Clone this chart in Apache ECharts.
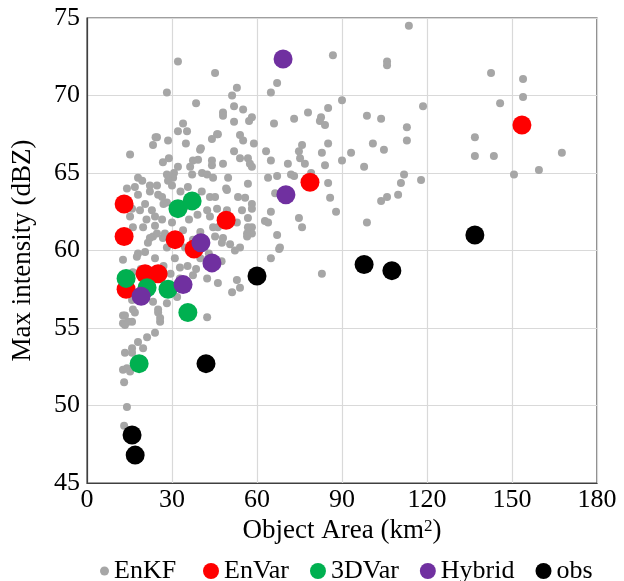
<!DOCTYPE html>
<html>
<head>
<meta charset="utf-8">
<script src="https://cdn.jsdelivr.net/npm/echarts@6/dist/echarts.min.js"></script>
<style>
html,body{margin:0;padding:0;background:#fff;}
#main{width:624px;height:581px;}
</style>
</head>
<body>
<div id="main"></div>
<script>
// tick marks
var xTicks = [0, 30, 60, 90, 120, 150, 180];
var yTicks = [45, 50, 55, 60, 65, 70, 75];

// EnKF members (gray cloud), [area, max dBZ]
var enkf = [
  [142.6,71.45],[153.9,71.06],[153.9,69.9],[145.8,69.5],[118.6,69.3],[136.9,67.3],[136.9,66.1],[143.6,66.1],
  [167.6,66.3],[159.5,65.2],[150.7,64.9],[117.9,64.55],[113.6,74.5],[86.8,72.6],[105.9,72.2],[105.9,71.95],
  [67.1,70.8],[64.9,70.2],[90.0,69.7],[85.1,69.2],[78.0,68.9],[73.1,68.5],[98.8,68.7],[103.8,68.5],
  [66.0,68.2],[82.6,68.6],[82.2,68.35],[84.0,68.1],[112.9,67.95],[112.9,67.1],[58.2,68.6],[58.9,66.9],
  [75.9,66.8],[85.1,66.9],[100.9,66.9],[104.8,66.5],[63.2,66.4],[74.8,66.4],[82.9,66.3],[93.2,66.3],
  [75.2,65.95],[76.9,65.6],[64.9,65.8],[70.9,65.6],[90.0,65.8],[84.0,65.5],[97.8,65.4],[58.2,65.4],
  [111.9,64.9],[110.8,64.35],[63.9,64.7],[67.1,64.8],[72.0,64.9],[73.1,64.8],[79.1,65.0],[85.1,64.35],
  [66.4,63.7],[109.8,63.6],[105.9,63.45],[103.8,63.2],[85.8,63.4],[58.2,63.0],[64.9,62.5],[87.9,62.5],
  [62.8,61.9],[63.9,61.8],[74.8,62.1],[75.9,61.5],[98.8,61.8],[58.2,61.5],[67.1,61.0],[68.1,60.2],
  [58.2,61.1],[67.8,60.1],[64.9,59.5],[82.9,58.5],
  [45.2,71.45],[52.9,70.5],[51.2,70.0],[38.5,69.5],[51.9,69.3],[55.1,69.1],[48.0,68.9],[48.0,68.7],
  [57.2,68.35],[51.9,68.3],[46.2,67.5],[44.1,67.2],[54.0,67.45],[55.1,67.1],[40.2,66.6],[51.9,66.4],
  [54.0,65.95],[39.2,65.85],[44.1,65.8],[44.1,65.5],[48.0,65.6],[56.8,65.95],[57.5,65.6],[40.6,65.0],
  [42.4,64.9],[44.5,64.7],[49.8,64.7],[56.8,64.3],[49.1,64.0],[43.4,63.45],[45.2,63.45],[53.3,63.45],
  [32.1,72.2],[28.2,70.2],[33.9,68.2],[32.1,67.7],[35.3,67.7],[24.7,67.3],[24.2,67.3],[28.6,67.1],
  [23.3,66.8],[34.9,66.9],[15.2,66.2],[28.9,65.95],[26.8,65.7],[36.4,65.4],[32.1,65.4],[37.1,64.9],
  [18.0,64.7],[28.2,64.9],[30.7,65.0],[22.2,64.2],[24.7,64.2],[30.0,64.2],[14.1,64.0],[16.9,64.1],
  [22.2,63.8],[18.0,63.6],[25.1,63.6],[35.6,64.1],[30.4,64.7],[28.6,64.5],[39.9,66.5],[45.9,67.5],
  [37.4,65.8],[49.4,63.9],[54.7,62.6],[49.4,62.6],[45.9,62.7],[42.4,62.6],
  [26.5,63.45],[28.2,63.1],[15.9,62.7],[18.7,62.6],[22.9,62.6],[24.0,62.2],[15.2,62.2],[26.5,62.0],
  [19.8,61.5],[24.0,61.6],[16.2,61.5],[23.3,60.9],[26.8,60.8],[21.5,60.5],[28.2,60.2],[34.6,60.2],
  [18.0,59.8],[20.5,59.9],[24.0,59.5],[17.6,59.6],[12.7,59.4],[32.8,58.9],[37.4,58.4],[16.2,58.6],
  [15.9,56.8],[23.3,56.7],[25.1,56.0],[16.2,56.2],[12.7,55.8],[15.9,55.4],[12.7,55.3],[25.8,55.4],
  [32.8,58.2],[31.8,57.0],[28.2,56.6],[55.8,63.4],[58.2,62.7],[43.4,62.2],[56.8,62.1],[52.9,61.8],
  [46.2,61.5],[56.8,61.5],[56.5,61.1],[56.5,60.9],[45.2,60.9],[48.0,60.8],[47.6,60.5],[50.5,60.4],
  [54.0,60.2],[52.2,60.0],[42.4,58.2],[46.2,57.9],[52.9,58.1],[54.0,57.6],[51.2,57.3],[42.4,55.7],
  [22.2,60.8],[24.7,61.1],[33.9,61.3],[27.5,61.1],[37.4,60.7],
  [25.1,56.2],[25.8,55.65],[16.9,56.0],[13.4,55.8],[14.5,55.4],[13.4,55.2],[24.0,54.7],[21.2,54.4],
  [18.0,54.1],[19.8,53.7],[15.9,53.7],[13.4,53.4],[15.9,53.4],[14.1,52.4],[12.7,52.3],[15.2,52.2],
  [13.1,51.5],[14.1,49.9],[13.1,48.7],
  [19.5,64.5],[20.5,63.0],[21.0,62.0],[27.0,63.0],[30.5,62.5],[34.5,62.8],[36.0,62.0],[39.0,62.3],
  [40.0,61.2],[30.0,61.8],[31.0,59.5],[35.5,59.0],[38.5,58.8],[29.5,58.5],[27.0,59.0],[21.5,58.0],
  [19.0,58.8],[40.0,59.5],[43.0,59.8],[44.5,61.5],[36.5,63.5],[33.0,63.8],[40.5,63.8],[47.5,59.3]
];
var enVar = [[13.1,63.0],[13.1,60.9],[13.8,57.5],[31.1,60.7],[20.5,58.5],[25.1,58.5],[37.8,60.1],[49.1,61.95],[78.7,64.4],[153.5,68.1]];
var threeDVar = [[13.8,58.2],[32.1,62.7],[37.1,63.2],[21.2,57.6],[28.6,57.5],[35.6,56.0],[18.4,52.7]];
var hybrid = [[69.2,72.35],[70.2,63.6],[40.2,60.5],[44.1,59.2],[33.9,57.8],[19.1,57.05]];
var obs = [[15.9,48.1],[17.0,46.8],[42.0,52.7],[60.0,58.35],[97.8,59.1],[107.6,58.7],[136.9,61.0]];

var serif = 'Liberation Serif';
var chart = echarts.init(document.getElementById('main'));
chart.setOption({
  backgroundColor: '#fff',
  animation: false,
  textStyle: { fontFamily: serif, color: '#000' },
  grid: { left: 87, right: 27, top: 18, bottom: 98, show: true, borderColor: '#404040', borderWidth: 1.2, backgroundColor: 'transparent' },
  legend: [
    { data: ['EnKF'], left: 95, top: 553, icon: 'circle', itemWidth: 9, itemHeight: 9, itemGap: 0,
      textStyle: { fontFamily: serif, fontSize: 26, color: '#000' } },
    { data: ['EnVar', '3DVar', 'Hybrid', 'obs'], left: 198, top: 553, icon: 'circle', itemWidth: 16, itemHeight: 16, itemGap: 21,
      textStyle: { fontFamily: serif, fontSize: 26, color: '#000' } }
  ],
  xAxis: {
    type: 'value', min: xTicks[0], max: xTicks[xTicks.length - 1], interval: 30,
    name: 'Object Area (km{sup|2})', nameLocation: 'middle', nameGap: 31,
    nameTextStyle: { fontFamily: serif, fontSize: 27, color: '#000',
      rich: { sup: { fontFamily: serif, fontSize: 17, verticalAlign: 'top', color: '#000' } } },
    axisLine: { lineStyle: { color: '#404040', width: 1.2 } },
    axisTick: { show: false },
    axisLabel: { fontFamily: serif, fontSize: 26, color: '#000', margin: 4 },
    splitLine: { lineStyle: { color: '#d9d9d9', width: 1.2 } }
  },
  yAxis: {
    type: 'value', min: yTicks[0], max: yTicks[yTicks.length - 1], interval: 5,
    name: 'Max intensity (dBZ)', nameLocation: 'middle', nameGap: 51,
    nameTextStyle: { fontFamily: serif, fontSize: 27, color: '#000' },
    axisLine: { lineStyle: { color: '#404040', width: 1.2 } },
    axisTick: { show: false },
    axisLabel: { fontFamily: serif, fontSize: 26, color: '#000', margin: 7 },
    splitLine: { lineStyle: { color: '#d9d9d9', width: 1.2 } }
  },
  series: [
    { name: 'EnKF', type: 'scatter', data: enkf, symbolSize: 8, itemStyle: { color: '#a6a6a6', opacity: 1 } },
    { name: 'EnVar', type: 'scatter', data: enVar, symbolSize: 19, itemStyle: { color: '#ff0000', opacity: 1 } },
    { name: '3DVar', type: 'scatter', data: threeDVar, symbolSize: 19, itemStyle: { color: '#00b050', opacity: 1 } },
    { name: 'Hybrid', type: 'scatter', data: hybrid, symbolSize: 19, itemStyle: { color: '#7030a0', opacity: 1 } },
    { name: 'obs', type: 'scatter', data: obs, symbolSize: 19, itemStyle: { color: '#000000', opacity: 1 } }
  ]
});
</script>
</body>
</html>
